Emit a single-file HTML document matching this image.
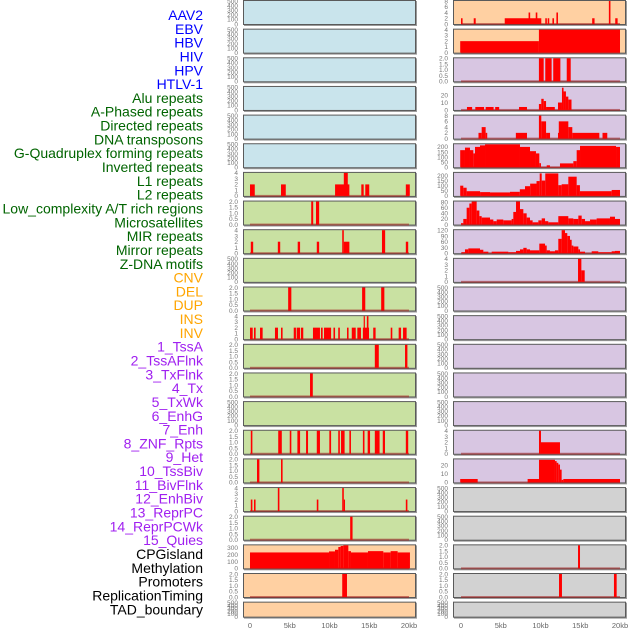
<!DOCTYPE html>
<html><head><meta charset="utf-8"><style>
html,body{margin:0;padding:0;background:#fff;}
svg{display:block;font-family:"Liberation Sans",sans-serif;}
</style></head><body>
<svg id="chart" width="630" height="630" viewBox="0 0 630 630" xmlns="http://www.w3.org/2000/svg">
<g id="labels"></g>
<g id="panels"></g>
<g id="xaxis"></g>
</svg>
<script>
const trackLabels = ["AAV2","EBV","HBV","HIV","HPV","HTLV-1","Alu repeats","A-Phased repeats","Directed repeats","DNA transposons","G-Quadruplex forming repeats","Inverted repeats","L1 repeats","L2 repeats","Low_complexity A/T rich regions","Microsatellites","MIR repeats","Mirror repeats","Z-DNA motifs","CNV","DEL","DUP","INS","INV","1_TssA","2_TssAFlnk","3_TxFlnk","4_Tx","5_TxWk","6_EnhG","7_Enh","8_ZNF_Rpts","9_Het","10_TssBiv","11_BivFlnk","12_EnhBiv","13_ReprPC","14_ReprPCWk","15_Quies","CPGisland","Methylation","Promoters","ReplicationTiming","TAD_boundary"];
const labelGroups = [6,13,5,15,5];
const labelColors = ["#0000ff","#006400","#ffa500","#a020f0","#000000"];
const xTickValues = [0,5,10,15,20];
const xTickLabels = ["0","5kb","10kb","15kb","20kb"];

// left column panels (rows 1..22)
const leftSegs = [
 [],[],[],[],[],[],
 [[0,0.6,2],[3.9,4.5,2],[10.7,12.5,2],[11.8,12.3,4],[14.0,14.3,2],[14.5,15.0,2],[19.6,20.1,2]],
 [[7.7,7.95,2],[8.3,8.7,2]],
 [[0.1,0.4,2],[3.5,3.8,2],[6.0,6.3,2],[8.4,8.7,2],[11.6,11.8,4],[11.8,12.5,2],[16.6,17.0,4],[19.6,19.9,2]],
 [],
 [[4.8,5.2,2],[14.1,14.5,2],[16.5,16.9,2]],
 [[0,0.34,2],[0.5,0.71,2],[1.26,1.59,2],[3.14,3.52,2],[3.9,4.1,2],[5.5,5.78,2],[5.87,6.29,2],[6.4,6.7,2],[7.92,8.8,2],[8.93,9.14,2],[9.31,10.2,2],[10.5,10.7,2],[11.1,11.3,2],[12.2,12.4,2],[12.8,13.3,2],[13.5,13.96,2],[14.2,14.97,2],[14.3,14.4,4],[14.7,14.9,4],[15.5,15.8,2],[17.7,17.9,2],[18.7,19.0,2],[19.25,19.7,2]],
 [[15.7,16.2,2],[19.5,19.8,2]],
 [[7.55,7.9,2]],
 [],
 [[0.1,0.3,2],[3.55,4.0,2],[5.0,5.2,2],[5.96,6.3,2],[7.05,7.3,2],[8.4,8.8,2],[9.98,10.2,2],[11.1,11.3,2],[11.45,11.9,2],[12.5,12.7,2],[14.2,14.4,2],[14.8,15.1,2],[15.7,16.3,2],[16.7,16.98,2],[19.6,19.9,2]],
 [[0.88,1.18,2],[3.9,4.1,2]],
 [[0.1,0.3,2],[0.5,0.7,2],[3.5,3.7,4],[8.4,8.6,2],[11.6,11.8,4],[11.8,11.95,2],[19.6,19.8,2]],
 [[12.6,12.9,2]],
 [[0,9.94,231],[9.94,10.69,246],[10.69,11.11,270],[11.11,11.4,310],[11.4,11.74,325],[11.74,12.37,349],[12.37,12.7,250],[12.7,14.84,231],[14.84,16.77,250],[16.77,17.69,231],[17.69,18.57,250],[18.57,20.12,231]],
 [[11.6,12.2,2]],
 []
];
const leftScale = ["500","500","500","500","500","500","4","2","4","500","2","4","2","2","500","2","2","4","2","cpg","2","500"];
const leftColors = ["b","b","b","b","b","b","g","g","g","g","g","g","g","g","g","g","g","g","g","o","o","o"];

const rightSegs = [
 [[0,0.2,2],[1.6,1.85,2],[5.5,10.1,2],[8.5,8.7,4],[9.4,9.6,4],[10.6,10.8,2],[10.9,11.1,2],[11.5,11.7,2],[12.0,12.2,4],[16.5,16.8,2],[18.6,18.8,8],[19.4,19.7,2]],
 [[-0.1,9.8,2],[9.8,20.0,4]],
 [[9.8,10.4,2],[10.6,11.4,2],[11.6,12.5,2],[13.3,13.8,2]],
 [[0.75,1.4,4],[1.8,2.9,4],[3.1,4.1,4],[4.3,4.8,4],[7.3,8.3,4],[9.8,10.1,8],[10.1,10.4,15],[10.4,10.7,12],[10.7,11.8,4],[12.2,12.7,10],[12.7,12.9,30],[12.9,13.2,25],[13.2,13.5,18],[13.5,13.9,14]],
 [[2.2,2.6,2],[2.6,3.1,4],[3.1,3.3,2],[6.9,8.3,2],[9.8,10.1,8],[10.1,10.7,6],[10.7,11.2,2],[12.2,12.3,2],[12.3,13.5,6],[13.5,14.0,4],[14.0,17.4,2],[17.8,18.4,2]],
 [[-0.1,0.5,168],[0.5,1.13,193],[1.13,1.55,168],[1.55,1.76,136],[1.76,2.39,200],[2.39,3.02,215],[3.02,7.42,225],[7.42,8.68,200],[8.68,9.43,158],[9.43,9.85,136],[9.85,10.06,40],[10.06,10.78,3],[10.78,11.19,19],[11.19,12.45,3],[12.45,14.13,38],[14.13,14.55,60],[14.55,14.97,168],[14.97,19.5,210],[19.5,20,200]],
 [[-0.1,0.29,100],[0.29,0.71,80],[0.71,2.4,46],[2.4,3.65,37],[3.65,6.16,34],[6.16,7.4,40],[7.4,8.05,65],[8.05,8.7,95],[8.7,9.5,120],[9.5,9.9,145],[9.9,10.15,220],[10.15,10.6,150],[10.6,12.24,220],[12.24,12.66,105],[12.66,13.5,114],[13.5,14.55,188],[14.55,14.96,105],[14.96,18.95,46],[18.95,20,58]],
 [[0,0.29,5],[0.29,0.71,20],[0.71,1.05,60],[1.05,1.34,75],[1.34,1.97,82],[1.97,2.31,50],[2.31,2.6,30],[2.6,3.65,25],[3.65,4.07,18],[4.07,4.49,12],[4.49,5.32,18],[5.32,6.37,15],[6.37,6.58,20],[6.58,6.92,45],[6.92,7.42,82],[7.42,7.84,55],[7.84,8.26,40],[8.26,8.68,25],[8.68,9.01,15],[9.01,9.73,8],[9.73,10.15,15],[10.15,10.57,22],[10.57,10.98,12],[10.98,12.24,8],[12.24,13.5,30],[13.5,14.13,22],[14.13,14.76,20],[14.76,15.18,32],[15.18,15.6,20],[15.6,16.23,12],[16.23,17.06,18],[17.06,18.74,22],[18.74,19.37,28],[19.37,20,20]],
 [[0.08,0.5,5],[0.5,0.92,20],[0.92,2.39,25],[2.39,2.81,18],[2.81,3.44,8],[3.86,5.95,8],[5.95,6.92,5],[6.92,7.42,12],[7.42,7.84,20],[7.84,8.26,28],[8.26,8.68,20],[8.68,9.85,15],[9.85,10.57,50],[10.57,10.78,40],[10.78,11.19,15],[11.19,11.82,10],[11.82,12.24,15],[12.24,12.66,75],[12.66,13.08,120],[13.08,13.37,105],[13.37,13.71,90],[13.71,13.92,70],[13.92,14.13,40],[14.13,14.76,35],[14.76,14.97,20],[14.97,15.6,8],[16.44,17.27,10],[17.27,18.95,5],[18.95,19.37,10],[19.37,20,12]],
 [[14.72,15.14,4],[15.14,15.56,2]],
 [],[],[],[],[],
 [[9.81,10.06,4],[10.06,12.45,2]],
 [[-0.1,2.1,4],[8.38,9.81,4],[9.81,11.82,26.5],[11.82,12.03,25],[12.03,12.24,23],[12.24,12.45,21],[12.45,12.66,15],[12.66,12.87,3],[12.87,20,4]],
 [],[],
 [[14.72,14.97,2]],
 [[12.33,12.7,2],[19.24,19.58,2]],
 []
];
const rightScale = ["8","4","2","r4","8","g4","l1","lc","mir","4","500","500","500","500","500","4","r17","500","500","2","2","500"];
const rightColors = ["o","o","p","p","p","p","p","p","p","p","p","p","p","p","p","p","p","y","y","y","y","y"];

const scales = {
 "500":{max:500,ticks:[0,100,200,300,400,500],dec:0},
 "2":{max:2,ticks:[0,0.5,1,1.5,2],dec:1},
 "4":{max:4,ticks:[0,1,2,3,4],dec:0},
 "8":{max:8,ticks:[0,2,4,6,8],dec:0},
 "cpg":{max:334,ticks:[0,100,200,300],dec:0},
 "r4":{max:31,ticks:[0,10,20],dec:0},
 "g4":{max:226,ticks:[0,50,100,150,200],dec:0},
 "l1":{max:225,ticks:[0,50,100,150,200],dec:0},
 "lc":{max:82,ticks:[0,20,40,60,80],dec:0},
 "mir":{max:120,ticks:[0,30,60,90,120],dec:0},
 "r17":{max:27,ticks:[0,10,20],dec:0}
};
const fills = {b:"#c9e4ec",g:"#c9e1a2",o:"#ffd0a2",p:"#d8c6e2",y:"#d2d2d2"};
const NS="http://www.w3.org/2000/svg";
function mk(tag,attrs,parent){const e=document.createElementNS(NS,tag);for(const k in attrs)e.setAttribute(k,attrs[k]);parent.appendChild(e);return e;}

// labels
const lg=document.getElementById('labels');
let gi=0,cnt=0;
trackLabels.forEach((t,i)=>{
  const e=mk('text',{x:203,y:15+i*13.82+5,'text-anchor':'end','font-size':14,fill:labelColors[gi]},lg);
  e.textContent=t;
  
  
  cnt++; if(cnt>=labelGroups[gi]){gi++;cnt=0;}
});

const pg=document.getElementById('panels');
function drawPanel(col,row,segs,scaleKey,colorKey){
  const x0 = col===0?243:453;
  const w = 173;
  const top = row*28.65;
  const h = row===21?16:25;
  const xs = kb => (col===0?250:461) + kb*7.95;
  const sc = scales[scaleKey];
  const ys = v => top+h-1 - v/sc.max*(h-2);
  const g=mk('g',{},pg);
  
  
  mk('rect',{x:x0+1,y:top+1,width:w,height:h,fill:'#9a9a9a'},g);
  mk('rect',{x:x0+0.5,y:top+0.5,width:w-1,height:h-1,fill:fills[colorKey],stroke:'#5a5a5a','stroke-width':1},g);
  sc.ticks.forEach(t=>{
    const tt=mk('text',{x:x0-5,y:ys(t)+2.3,'text-anchor':'end','font-size':6.5,fill:'#777'},g);
    tt.textContent=t.toFixed(sc.dec);
    
    
  });
  if(segs.length){
    const bl=mk('rect',{x:xs(0),y:ys(0)-1,width:xs(20)-xs(0),height:2,fill:'rgba(160,30,30,0.55)'},g);
    
    
  }
  segs.forEach(s=>{
    const a=xs(s[0]),b=xs(s[1]);
    const yv=Math.max(ys(s[2]),top+1);
    const r=mk('rect',{x:a,y:yv,width:Math.max(1.2,b-a),height:ys(0)-yv,fill:'#ff0000'},g);
    
    
  });
}
for(let r=0;r<22;r++){
  drawPanel(0,r,leftSegs[r],leftScale[r],leftColors[r]);
  drawPanel(1,r,rightSegs[r],rightScale[r],rightColors[r]);
}
const xg=document.getElementById('xaxis');
[250,461].forEach(o=>{
  xTickValues.forEach((v,i)=>{
    const t=mk('text',{x:o+v*7.95,y:628,'text-anchor':'middle','font-size':7.5,fill:'#666'},xg);
    t.textContent=xTickLabels[i];
    
    
  });
});
</script>
</body></html>
